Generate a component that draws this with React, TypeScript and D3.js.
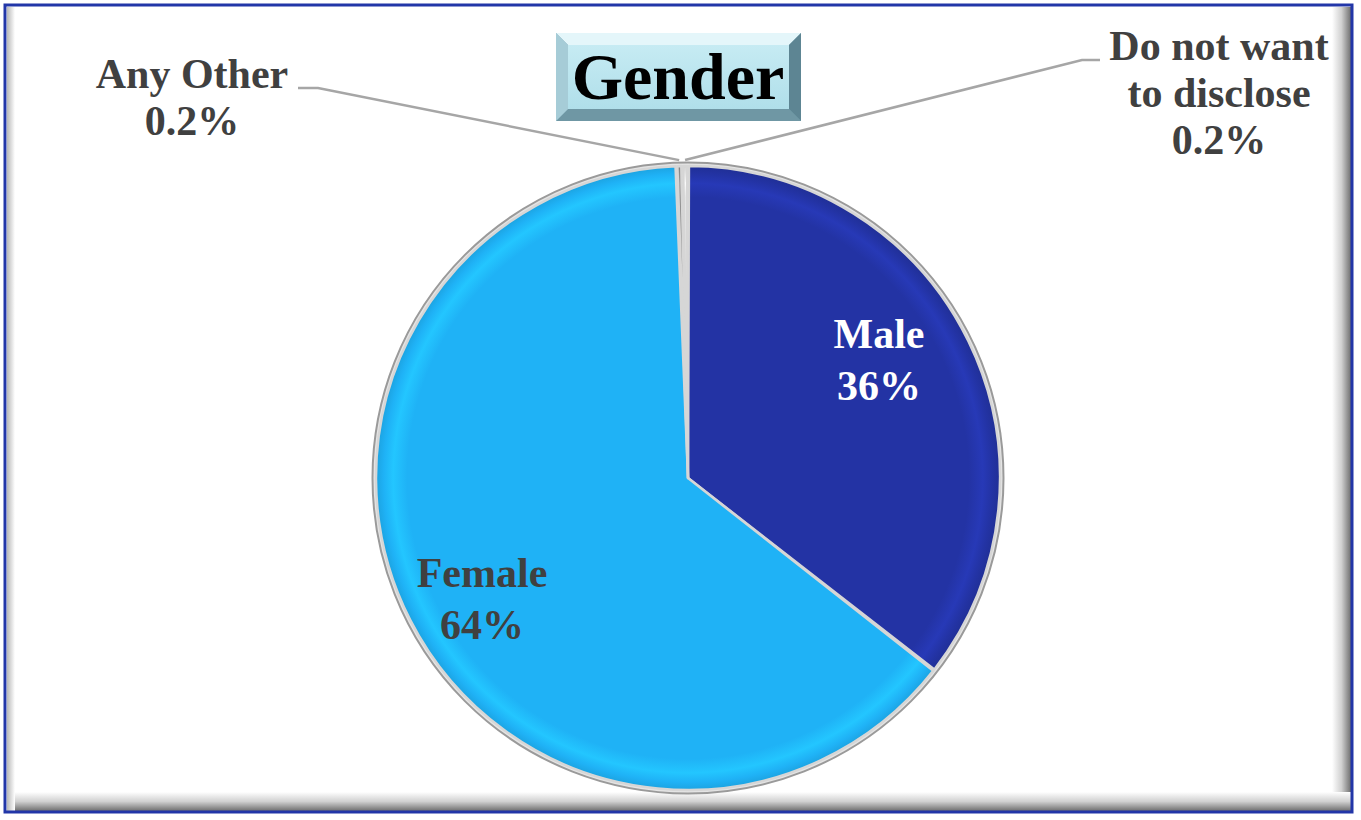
import React from "react";
import * as d3 from "d3";

const categories = ["Male", "Female", "Any Other", "Do not want to disclose"];
const values = [35.6, 64.0, 0.2, 0.2];
const valueLabels = ["36%", "64%", "0.2%", "0.2%"];
const colors = ["#2333A4", "#1FB2F6", "#8c8c8c", "#e6e6e6"];
const title = "Gender";

const W = 1361;
const H = 820;
const cx = 688;
const cy = 478;
const R = 312;
const FONT = "'Liberation Serif', 'DejaVu Serif', serif";

// label layout (text positions, line breaks)
const labelLayout = [
  { lines: ["Male"], x: 879, y: 348, fill: "#ffffff", inside: true },
  { lines: ["Female"], x: 482, y: 587, fill: "#404040", inside: true },
  { lines: ["Any Other"], x: 192, y: 88, fill: "#404040", inside: false, lineStart: [298, 88], elbow: [318, 88] },
  { lines: ["Do not want", "to disclose"], x: 1219, y: 60, fill: "#404040", inside: false, lineStart: [1100, 60], elbow: [1082, 60] },
];

export default function App() {
  const pie = d3.pie<number>().value((d) => d).sort(null).padAngle(0.006);
  const arcs = pie(values);
  const arc = d3.arc<d3.PieArcDatum<number>>().innerRadius(0).outerRadius(R);

  return (
    <svg width={W} height={H} style={{ display: "block", position: "absolute", left: 0, top: 0 }}>
      <defs>
        <linearGradient id="frameR" x1="0" x2="1" y1="0" y2="0">
          <stop offset="0" stopColor="#ffffff" />
          <stop offset="0.5" stopColor="#d0d0d0" />
          <stop offset="1" stopColor="#6e6e6e" />
        </linearGradient>
        <linearGradient id="frameB" x1="0" x2="0" y1="0" y2="1">
          <stop offset="0" stopColor="#ffffff" />
          <stop offset="0.5" stopColor="#d0d0d0" />
          <stop offset="1" stopColor="#6e6e6e" />
        </linearGradient>
        <linearGradient id="frameL" x1="0" x2="1" y1="0" y2="0">
          <stop offset="0" stopColor="#b8b8b8" />
          <stop offset="1" stopColor="#ffffff" />
        </linearGradient>
        <linearGradient id="titleFace" x1="0" x2="0" y1="0" y2="1">
          <stop offset="0" stopColor="#c6ebf3" />
          <stop offset="1" stopColor="#b0dfea" />
        </linearGradient>
        {colors.map((c, i) => (
          <radialGradient key={i} id={`slice${i}`} gradientUnits="userSpaceOnUse" cx={0} cy={0} r={R}>
            <stop offset="0" stopColor={c} />
            <stop offset="0.9" stopColor={c} />
            <stop offset="0.945" stopColor={d3.color(c)!.brighter(0.3).formatHex()} />
            <stop offset="0.975" stopColor={c} />
            <stop offset="1" stopColor={d3.color(c)!.darker(0.25).formatHex()} />
          </radialGradient>
        ))}
      </defs>

      {/* frame */}
      <rect x={0} y={0} width={W} height={H} fill="#ffffff" />
      <rect x={5} y={5} width={1347} height={807} fill="#ffffff" />
      <rect x={1332} y={7} width={19} height={804} fill="url(#frameR)" />
      <rect x={7} y={792} width={1345} height={19} fill="url(#frameB)" />
      <rect x={7} y={7} width={8} height={804} fill="url(#frameL)" />
      <rect x={5} y={5} width={1347} height={807} fill="none" stroke="#2236a8" strokeWidth={3} />

      {/* title box */}
      <g>
        <rect x={556} y={33} width={245} height={88} fill="#7fa9b6" />
        <polygon points="556,33 801,33 789,45 568,45" fill="#e4f6fa" />
        <polygon points="556,121 801,121 789,109 568,109" fill="#6f97a4" />
        <polygon points="556,33 568,45 568,109 556,121" fill="#a6ccd7" />
        <polygon points="801,33 789,45 789,109 801,121" fill="#5d8593" />
        <rect x={568} y={45} width={221} height={64} fill="url(#titleFace)" />
        <text x={678} y={99} textAnchor="middle" fontFamily={FONT} fontWeight="bold" fontSize={66} fill="#000000">
          {title}
        </text>
      </g>

      {/* pie */}
      <g transform={`translate(${cx},${cy})`}>
        <circle r={R + 3} fill="none" stroke="#9a9a9a" strokeWidth={3} />
        <circle r={R + 1} fill="none" stroke="#e4e4e4" strokeWidth={3} />
        {arcs.map((a, i) => (
          <path
            key={categories[i]}
            d={arc(a) || ""}
            fill={`url(#slice${i})`}
            stroke="#d6d6d6"
            strokeWidth={2.5}
            strokeLinejoin="round"
          />
        ))}
      </g>

      {/* leader lines */}
      {labelLayout.map((l, i) => {
        if (l.inside) return null;
        const a = arcs[i];
        const mid = (a.startAngle + a.endAngle) / 2;
        const ex = cx + Math.sin(mid) * (R + 6);
        const ey = cy - Math.cos(mid) * (R + 6);
        return (
          <polyline
            key={"ll" + i}
            points={`${l.lineStart![0]},${l.lineStart![1]} ${l.elbow![0]},${l.elbow![1]} ${ex},${ey}`}
            fill="none"
            stroke="#a6a6a6"
            strokeWidth={2.5}
          />
        );
      })}

      {/* labels */}
      {labelLayout.map((l, i) => {
        const all = [...l.lines, valueLabels[i]];
        const lh = l.inside ? 52 : 47;
        return (
          <text
            key={"t" + i}
            x={l.x}
            y={l.y}
            textAnchor="middle"
            fontFamily={FONT}
            fontWeight="bold"
            fontSize={42}
            fill={l.fill}
          >
            {all.map((s, j) => (
              <tspan key={j} x={l.x} dy={j === 0 ? 0 : lh}>
                {s}
              </tspan>
            ))}
          </text>
        );
      })}
    </svg>
  );
}
